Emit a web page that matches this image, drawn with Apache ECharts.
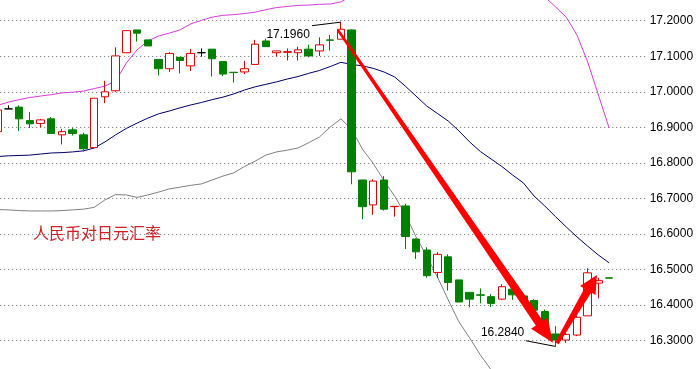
<!DOCTYPE html>
<html><head><meta charset="utf-8">
<script src="https://cdn.jsdelivr.net/npm/echarts@6/dist/echarts.min.js"></script>
<style>html,body{margin:0;padding:0;background:#fff;overflow:hidden}#c{width:696px;height:369px}</style>
</head><body><div id="c"></div>
<script>
// ---- data ----
const categories = [1,2,3,4,5,6,7,8,9,10,11,12,13,14,15,16,17,18,19,20,21,22,23,24,25,26,27,28,29,30,31,32,33,34,35,36,37,38,39,40,41,42,43,44,45,46,47,48,49,50,51,52,53,54,55,56,57,58,59,60,61];
const opens  = [16.888,16.952,16.957,16.919,16.911,16.924,16.879,16.893,16.879,16.843,16.986,17.003,17.110,17.174,17.146,17.091,17.065,17.097,17.073,17.110,17.120,17.085,17.055,17.056,17.077,17.143,17.110,17.111,17.110,17.120,17.115,17.146,17.148,17.174,16.752,16.682,16.752,16.677,16.679,16.586,16.555,16.492,16.536,16.471,16.436,16.429,16.424,16.417,16.445,16.426,16.413,16.382,16.319,16.302,16.316,16.370,16.462,16.477];
const closes = [16.949,16.952,16.924,16.910,16.921,16.883,16.888,16.883,16.840,16.982,17.000,17.101,17.172,17.165,17.129,17.065,17.108,17.088,17.108,17.110,17.093,17.050,17.054,17.065,17.134,17.127,17.115,17.113,17.118,17.101,17.132,17.145,17.176,16.775,16.677,16.749,16.670,16.678,16.593,16.550,16.483,16.543,16.464,16.409,16.417,16.428,16.405,16.452,16.429,16.413,16.386,16.339,16.302,16.318,16.366,16.491,16.469,16.476];
const lows   = [16.887,16.952,16.890,16.898,16.900,16.882,16.852,16.877,16.832,16.842,16.968,17.000,17.109,17.141,17.129,17.046,17.056,17.052,17.059,17.099,17.043,17.044,17.026,17.050,17.077,17.127,17.099,17.088,17.088,17.097,17.101,17.116,17.148,16.740,16.642,16.654,16.666,16.649,16.558,16.530,16.477,16.476,16.441,16.409,16.394,16.405,16.395,16.415,16.415,16.408,16.381,16.336,16.284,16.294,16.313,16.370,16.419,16.476];
const highs  = [16.960,16.962,16.962,16.943,16.924,16.929,16.896,16.899,16.885,16.982,17.031,17.125,17.174,17.174,17.146,17.091,17.111,17.097,17.120,17.122,17.120,17.085,17.055,17.087,17.146,17.149,17.115,17.122,17.127,17.132,17.153,17.160,17.196,17.176,16.752,16.754,16.763,16.678,16.685,16.588,16.563,16.549,16.543,16.471,16.436,16.447,16.431,16.459,16.445,16.429,16.417,16.388,16.341,16.323,16.370,16.504,16.477,16.477];
const upperBand = [16.962,16.971,16.978,16.984,16.988,16.992,16.997,16.999,17.002,17.009,17.016,17.030,17.081,17.118,17.143,17.157,17.165,17.174,17.191,17.201,17.210,17.215,17.217,17.220,17.224,17.231,17.237,17.240,17.243,17.244,17.246,17.247,17.253,17.270,17.300,17.330,17.350,17.370,17.380,17.395,17.405,17.410,17.410,17.405,17.395,17.380,17.360,17.340,17.320,17.300,17.285,17.267,17.239,17.210,17.160,17.084,16.991,16.898];
const midBand = [16.818,16.820,16.821,16.822,16.825,16.828,16.829,16.831,16.834,16.842,16.859,16.879,16.897,16.912,16.926,16.938,16.946,16.955,16.963,16.970,16.978,16.985,16.994,17.005,17.014,17.021,17.028,17.036,17.043,17.052,17.060,17.071,17.083,17.077,17.073,17.066,17.056,17.042,17.016,16.988,16.960,16.939,16.918,16.890,16.859,16.832,16.811,16.790,16.766,16.744,16.707,16.679,16.649,16.620,16.592,16.566,16.541,16.519];
const lowerBand = [16.669,16.668,16.666,16.665,16.665,16.665,16.666,16.668,16.670,16.675,16.696,16.711,16.710,16.703,16.710,16.718,16.727,16.732,16.737,16.741,16.752,16.763,16.772,16.790,16.805,16.822,16.831,16.836,16.842,16.857,16.873,16.901,16.924,16.895,16.839,16.799,16.751,16.707,16.656,16.592,16.538,16.479,16.415,16.353,16.308,16.260,16.218,16.190,16.170,16.150,16.130,16.120,16.110,16.110,16.110,16.120,16.130,16.140];
const yMin = 16.2, yMax = 17.3, yStep = 0.1;
// arrows: [index, price]
const arrowTails = [[31.72, 17.174], [52.13, 16.293]];
const arrowTips  = [[51.76, 16.294], [55.86, 16.485]];
// notes
const noteTexts = ['17.1960', '16.2840'];
const noteTextPos = [[29.1, 17.161], [49.09, 16.3226]];
const notePointerFrom = [[29.3, 17.186], [49.25, 16.300]];
const notePointerTo = [[32, 17.196], [52, 16.284]];
const chartTitle = '人民币对日元汇率';

// ---- styles ----
const UP = '#dd0000', DOWN = '#008000';
const ARROW_STYLES = [{w0: 2.5, w1: 8.5, hl: 24, hw: 10}, {w0: 4, w1: 8, hl: 18, hw: 9}];

const candleData = opens.map((o, i) => {
  const v = [o, closes[i], lows[i], highs[i]];
  if (o === closes[i]) {
    return {value: v, itemStyle: {color: '#000', color0: '#000', borderColor: '#000', borderColor0: '#000', borderColorDoji: '#000'}};
  }
  return v;
});

const chart = echarts.init(document.getElementById('c'), null, {renderer: 'canvas'});
chart.setOption({
  animation: false,
  backgroundColor: '#fff',
  grid: {left: -7.77, right: 49.3, top: -14.86, bottom: -7.3, containLabel: false, outerBoundsMode: 'none'},
  xAxis: [
    {type: 'category', data: categories, boundaryGap: true, show: false},
    {type: 'value', min: -0.5, max: categories.length - 0.5, show: false}
  ],
  yAxis: {
    type: 'value', position: 'right', min: yMin, max: yMax, interval: yStep, scale: true,
    axisLine: {show: true, lineStyle: {color: '#808080', width: 1}},
    axisTick: {show: false},
    splitLine: {show: true, lineStyle: {color: '#6e6e6e', type: [1, 3], width: 1}},
    axisLabel: {
      color: '#000', fontSize: 12, fontFamily: 'Liberation Sans', margin: 3,
      verticalAlign: 'middle', padding: [7, 0, 0, 0],
      formatter: v => (v < 16.25 || v > 17.25) ? '' : v.toFixed(4)
    }
  },
  title: {text: chartTitle, left: 33, top: 225, padding: 0,
    textStyle: {color: '#cc2027', fontSize: 16, fontWeight: 'normal', fontFamily: 'Noto Sans CJK SC'}},
  series: [
    {type: 'line', data: lowerBand, symbol: 'none', lineStyle: {color: '#808080', width: 1}, z: 1},
    {type: 'line', data: midBand, symbol: 'none', lineStyle: {color: '#000066', width: 1}, z: 1},
    {type: 'line', data: upperBand, symbol: 'none', lineStyle: {color: '#d63cd6', width: 1}, z: 1},
    {type: 'candlestick', data: candleData, barWidth: 8, z: 2,
      itemStyle: {color: '#ffffff', color0: DOWN, borderColor: UP, borderColor0: DOWN, borderWidth: 1}},
    {type: 'custom', xAxisIndex: 1, yAxisIndex: 0, z: 5, clip: false,
      data: noteTexts.map((t, k) => [noteTextPos[k][0], noteTextPos[k][1], notePointerFrom[k][0], notePointerFrom[k][1], notePointerTo[k][0], notePointerTo[k][1]]),
      encode: {x: [0, 2, 4], y: [1, 3, 5]},
      renderItem: (params, api) => {
        const tp = api.coord([api.value(0), api.value(1)]);
        const a = api.coord([api.value(2), api.value(3)]);
        const b = api.coord([api.value(4), api.value(5)]);
        return {type: 'group', children: [
          {type: 'line', shape: {x1: a[0], y1: a[1], x2: b[0], y2: b[1]}, style: {stroke: '#000', lineWidth: 1}},
          {type: 'text', x: tp[0], y: tp[1], style: {text: noteTexts[params.dataIndex], fill: '#000', fontSize: 12, fontFamily: 'Liberation Sans', align: 'right', verticalAlign: 'middle'}}
        ]};
      }
    },
    {type: 'custom', xAxisIndex: 1, yAxisIndex: 0, z: 6, clip: false,
      data: arrowTails.map((t, k) => [t[0], t[1], arrowTips[k][0], arrowTips[k][1]]),
      encode: {x: [0, 2], y: [1, 3]},
      renderItem: (params, api) => {
        const p0 = api.coord([api.value(0), api.value(1)]);
        const p1 = api.coord([api.value(2), api.value(3)]);
        const st = ARROW_STYLES[params.dataIndex];
        const dx = p1[0] - p0[0], dy = p1[1] - p0[1], L = Math.hypot(dx, dy);
        const ux = dx / L, uy = dy / L, nx = -uy, ny = ux;
        const bx = p1[0] - ux * st.hl, by = p1[1] - uy * st.hl;
        const pts = [
          [p0[0] + nx * st.w0 / 2, p0[1] + ny * st.w0 / 2],
          [bx + nx * st.w1 / 2, by + ny * st.w1 / 2],
          [bx + nx * st.hw, by + ny * st.hw],
          [p1[0], p1[1]],
          [bx - nx * st.hw, by - ny * st.hw],
          [bx - nx * st.w1 / 2, by - ny * st.w1 / 2],
          [p0[0] - nx * st.w0 / 2, p0[1] - ny * st.w0 / 2]
        ];
        return {type: 'polygon', shape: {points: pts}, style: {fill: '#ff0000'}};
      }
    }
  ]
});
</script>
</body></html>
